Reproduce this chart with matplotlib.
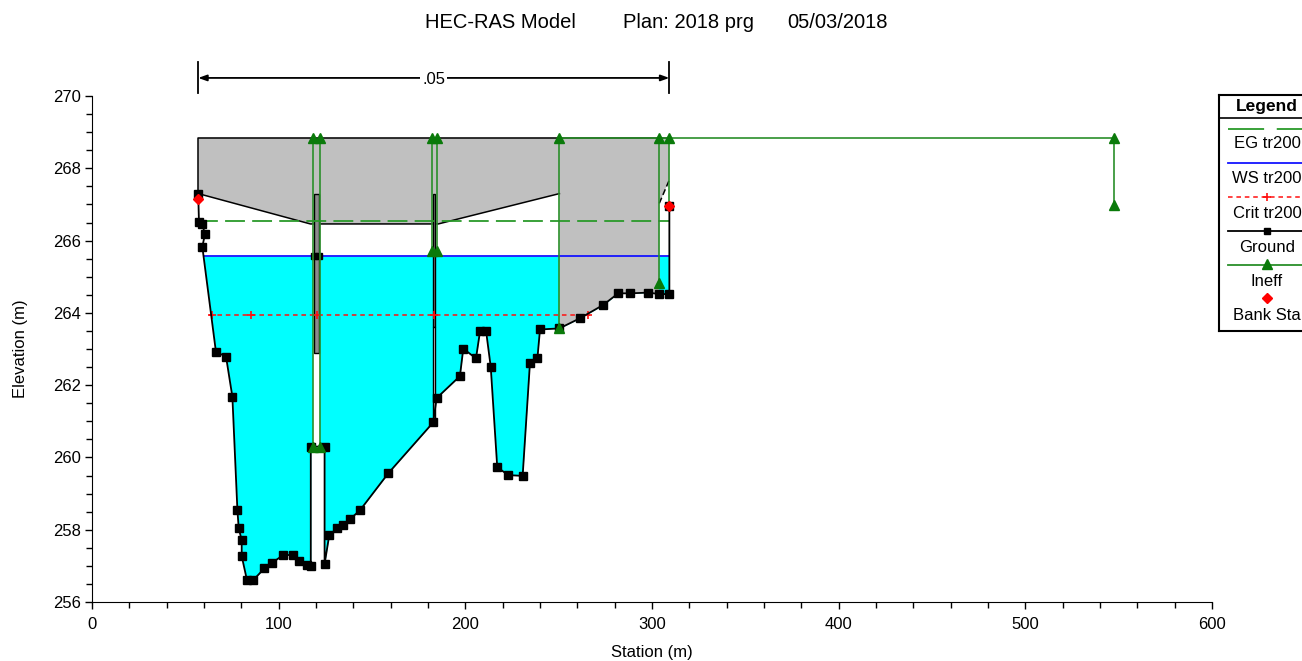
import matplotlib
matplotlib.use('Agg')
import matplotlib.pyplot as plt
from matplotlib.patches import Polygon, Rectangle
from matplotlib.ticker import MultipleLocator
import numpy as np

plt.rcParams['font.family'] = ['Liberation Sans', 'DejaVu Sans']

# ---------------- data ----------------
title_parts = ["HEC-RAS Model", "Plan: 2018 prg", "05/03/2018"]
x_label = "Station (m)"
y_label = "Elevation (m)"

ground_sta = [56.9, 57.3, 59.1, 60.5, 59.1, 66.4, 71.8, 75.2, 77.9, 78.6, 80.2, 80.2,
              83.0, 86.5, 92.3, 96.6, 102.5, 107.9, 111.1, 115.0, 117.2, 117.2, 124.6,
              124.6, 127.1, 131.4, 134.6, 138.2, 143.6, 158.7, 182.8, 184.6, 197.1,
              198.9, 205.7, 207.9, 211.1, 213.6, 217.1, 223.0, 230.7, 234.6, 238.6,
              240.0, 250.4, 261.4, 273.9, 281.9, 288.2, 298.0, 303.9, 309.3, 309.3]
ground_elev = [267.30, 266.52, 266.46, 266.17, 265.83, 262.92, 262.79, 261.68, 258.54,
               258.04, 257.71, 257.27, 256.61, 256.61, 256.93, 257.09, 257.30, 257.30,
               257.14, 257.02, 257.00, 260.30, 260.30, 257.05, 257.85, 258.04, 258.13,
               258.29, 258.54, 259.56, 260.97, 261.64, 262.25, 263.01, 262.74, 263.50,
               263.50, 262.51, 259.73, 259.51, 259.49, 262.60, 262.74, 263.54, 263.57,
               263.85, 264.22, 264.54, 264.54, 264.56, 264.52, 264.52, 266.96]

ws_elev = 265.57
eg_elev = 266.55
eg_sta = [56.9, 309.3]
crit_elev = 263.95
crit_line_sta = [62.9, 267.0]
crit_mark_sta = [64.1, 85.2, 120.3, 183.2, 265.9]

bank_sta = [56.9, 309.3]
bank_elev = [267.15, 266.96]

deck_top_elev = 268.85
deck_sta = [56.9, 309.3]
low_chord_sta = [56.9, 117.0, 185.5, 250.4]
low_chord_elev = [267.30, 266.46, 266.46, 267.30]
right_chord_sta = [303.9, 309.3]
right_chord_elev = [267.03, 267.68]

pier1_sta = [119.1, 121.6]
pier1_elev = [262.9, 267.3]
pier2_sta = [182.6, 184.0]
pier2_elev = [261.0, 263.6, 267.3]

ineff_top = 268.85
ineff_pier1_sta = [118.5, 122.1]
ineff_pier1_bot = 260.3
ineff_pier2_sta = [182.0, 184.6]
ineff_pier2_bot = 265.7
ineff_right_sta = [250.4, 303.9, 309.3, 547.5]
ineff_right_bot = [263.57, 264.83, 266.96, 266.98]
ineff_right_bot_marker = [True, True, False, True]

n_value_label = ".05"
n_sta = [56.9, 309.3]

legend_labels = ["EG tr200", "WS tr200", "Crit tr200", "Ground", "Ineff", "Bank Sta"]

# ---------------- colours ----------------
C_WATER = '#00FFFF'
C_DECK = '#C0C0C0'
C_EG = '#2A9A2A'
C_INEFF = '#2A8F2A'
C_TRI = '#0A7A0A'
C_WS = '#1414FF'
C_CRIT = '#FF1010'

fig = plt.figure(figsize=(13.02, 6.61), dpi=100)
ax = fig.add_axes([92 / 1302, 59 / 661, 1120 / 1302, 506 / 661])

gs = np.array(ground_sta)
ge = np.array(ground_elev)

# water fill
ax.fill_between(gs, ge, ws_elev, where=ge < ws_elev, interpolate=True,
                color=C_WATER, lw=0, zorder=1)

# left crossing of WS with ground
idx = np.where(ge < ws_elev)[0][0]
x0, x1, y0, y1 = gs[idx - 1], gs[idx], ge[idx - 1], ge[idx]
ws_left = x0 + (ws_elev - y0) * (x1 - x0) / (y1 - y0)
ws_sta = [ws_left, gs[-1]]

# pier 1 white strip between ineffective lines
ax.add_patch(Rectangle((ineff_pier1_sta[0], ineff_pier1_bot),
                       ineff_pier1_sta[1] - ineff_pier1_sta[0], ws_elev - ineff_pier1_bot,
                       facecolor='white', edgecolor='none', zorder=2))

# deck polygon
mask = (gs >= low_chord_sta[-1]) & (gs <= right_chord_sta[0]) & (ge < 266)
g_part = list(zip(gs[mask], ge[mask]))
deck_pts = [(deck_sta[0], deck_top_elev), (deck_sta[1], deck_top_elev),
            (right_chord_sta[1], right_chord_elev[1]),
            (right_chord_sta[0], right_chord_elev[0])]
deck_pts += g_part[::-1]
deck_pts += list(zip(low_chord_sta[::-1], low_chord_elev[::-1]))
ax.add_patch(Polygon(deck_pts, closed=True, facecolor=C_DECK, edgecolor='none', zorder=2.2))
# deck outline
ax.plot([deck_sta[0], deck_sta[0], deck_sta[1]],
        [low_chord_elev[0], deck_top_elev, deck_top_elev], color='black', lw=1.1, zorder=2.4)
ax.plot(low_chord_sta, low_chord_elev, color='black', lw=1.1, zorder=2.4)
ax.plot(right_chord_sta, right_chord_elev, color='black', lw=1.1, ls=(0, (4, 2)), zorder=2.4)

# piers
ax.add_patch(Rectangle((pier1_sta[0], pier1_elev[0]), pier1_sta[1] - pier1_sta[0],
                       pier1_elev[1] - pier1_elev[0], facecolor='#8C8C8C',
                       edgecolor='black', lw=1.0, zorder=2.6))
ax.add_patch(Rectangle((pier2_sta[0], pier2_elev[1]), pier2_sta[1] - pier2_sta[0],
                       pier2_elev[2] - pier2_elev[1], facecolor='#8C8C8C',
                       edgecolor='black', lw=1.0, zorder=2.6))
ax.add_patch(Rectangle((pier2_sta[0], pier2_elev[0]), pier2_sta[1] - pier2_sta[0],
                       pier2_elev[1] - pier2_elev[0], facecolor='white',
                       edgecolor='black', lw=1.0, zorder=2.6))

# EG, WS, crit
ax.plot(eg_sta, [eg_elev, eg_elev], color=C_EG, lw=1.3, ls=(0, (11, 4)), zorder=4)
ax.plot(ws_sta, [ws_elev, ws_elev], color=C_WS, lw=1.3, zorder=4)
ax.plot(crit_line_sta, [crit_elev, crit_elev], color=C_CRIT, lw=1.1, ls=(0, (3, 2.5)), zorder=4)
ax.plot(crit_mark_sta, [crit_elev] * len(crit_mark_sta), ls='none', marker='+',
        color=C_CRIT, ms=6, mew=1.2, zorder=4.1)

# ground
ax.plot(gs, ge, color='black', lw=1.3, marker='s', ms=5.3, mfc='black', mec='black', zorder=5)
ax.plot([ineff_pier1_sta[0] + 0.4, ineff_pier1_sta[1] - 0.4], [ws_elev, ws_elev], ls='none',
        marker='s', ms=4, color='black', zorder=5)

# ineffective flow areas
tri = dict(ls='none', marker='^', ms=7, color=C_TRI, zorder=6.5)
for s in ineff_pier1_sta:
    ax.plot([s, s], [ineff_pier1_bot, ineff_top], color=C_INEFF, lw=1.2, zorder=6)
    ax.plot([s, s], [ineff_pier1_bot, ineff_top], **tri)
for s in ineff_pier2_sta:
    ax.plot([s, s], [ineff_pier2_bot, ineff_top], color=C_INEFF, lw=1.2, zorder=6)
    ax.plot([s, s], [ineff_pier2_bot, ineff_top], **tri)
ax.plot([ineff_right_sta[0], ineff_right_sta[-1]], [ineff_top, ineff_top],
        color=C_INEFF, lw=1.2, zorder=6)
for s, b, m in zip(ineff_right_sta, ineff_right_bot, ineff_right_bot_marker):
    ax.plot([s, s], [b, ineff_top], color=C_INEFF, lw=1.2, zorder=6)
    ax.plot([s], [ineff_top], **tri)
    if m:
        ax.plot([s], [b], **tri)

# bank stations
ax.plot(bank_sta, bank_elev, ls='none', marker='D', ms=5, color='#FF0000', zorder=7)

# Manning's n annotation
n_y = 270.5
ax.annotate('', xy=(n_sta[0], n_y), xytext=(n_sta[1], n_y), annotation_clip=False,
            arrowprops=dict(arrowstyle='<|-|>,head_length=0.5,head_width=0.18',
                            color='black', lw=1.3, shrinkA=0, shrinkB=0))
for s in n_sta:
    ax.plot([s, s], [270.08, 270.94], color='black', lw=1.3, clip_on=False)
ax.text(np.mean(n_sta), n_y - 0.04, n_value_label, ha='center', va='center', fontsize=12,
        bbox=dict(facecolor='white', edgecolor='none', pad=1.5), clip_on=False)

# axes styling
ax.set_xlim(0, 600)
ax.set_ylim(256, 270)
ax.spines['top'].set_visible(False)
ax.spines['right'].set_visible(False)
ax.xaxis.set_major_locator(MultipleLocator(100))
ax.xaxis.set_minor_locator(MultipleLocator(20))
ax.yaxis.set_major_locator(MultipleLocator(2))
ax.yaxis.set_minor_locator(MultipleLocator(0.5))
ax.tick_params(which='major', length=5, width=1, labelsize=12, direction='out')
ax.tick_params(which='minor', length=4, width=1, direction='out')
ax.tick_params(axis='x', pad=6)
ax.tick_params(axis='y', pad=3)
ax.set_ylabel(y_label, fontsize=12, labelpad=18)
fig.text(652 / 1302, 1 - 652 / 661, x_label, fontsize=12, ha='center', va='center')

# title
fig.text(425 / 1302, 1 - 22 / 661, title_parts[0], fontsize=14.5, ha='left', va='center')
fig.text(623 / 1302, 1 - 22 / 661, title_parts[1], fontsize=14.5, ha='left', va='center')
fig.text(787 / 1302, 1 - 22 / 661, title_parts[2], fontsize=14.5, ha='left', va='center')

# legend box (custom, HEC-RAS style)
lax = fig.add_axes([1219 / 1302, 1 - 331 / 661, 130 / 1302, 236 / 661])
lax.set_xlim(1219, 1349)
lax.set_ylim(331, 95)
lax.set_xticks([])
lax.set_yticks([])
for sp in lax.spines.values():
    sp.set_linewidth(1.5)
lax.axhline(118.3, color='black', lw=1.2)
lax.text(1267, 106, "Legend", ha='center', va='center', fontsize=12.5, fontweight='bold')
cx = 1267
lx = [1228, 1302]
lax.plot(lx, [128.5, 128.5], color=C_EG, lw=1.3, ls=(0, (20, 7)))
lax.plot(lx, [162.7, 162.7], color=C_WS, lw=1.3)
lax.plot(lx, [197.3, 197.3], color=C_CRIT, lw=1.1, ls=(0, (3, 2.5)))
lax.plot([cx], [197.3], marker='+', color=C_CRIT, ms=6, mew=1.2)
lax.plot(lx, [230.7, 230.7], color='black', lw=1.3)
lax.plot([cx], [230.7], marker='s', color='black', ms=5)
lax.plot(lx, [265, 265], color=C_INEFF, lw=1.3)
lax.plot([cx], [263.5], marker='^', color=C_TRI, ms=7)
lax.plot([cx], [298.3], marker='D', color='#FF0000', ms=5)
for lab, y in zip(legend_labels, [144, 178.5, 213, 247.5, 282, 315.5]):
    lax.text(cx, y, lab, ha='center', va='center', fontsize=12)

fig.savefig('out.png', dpi=100)
